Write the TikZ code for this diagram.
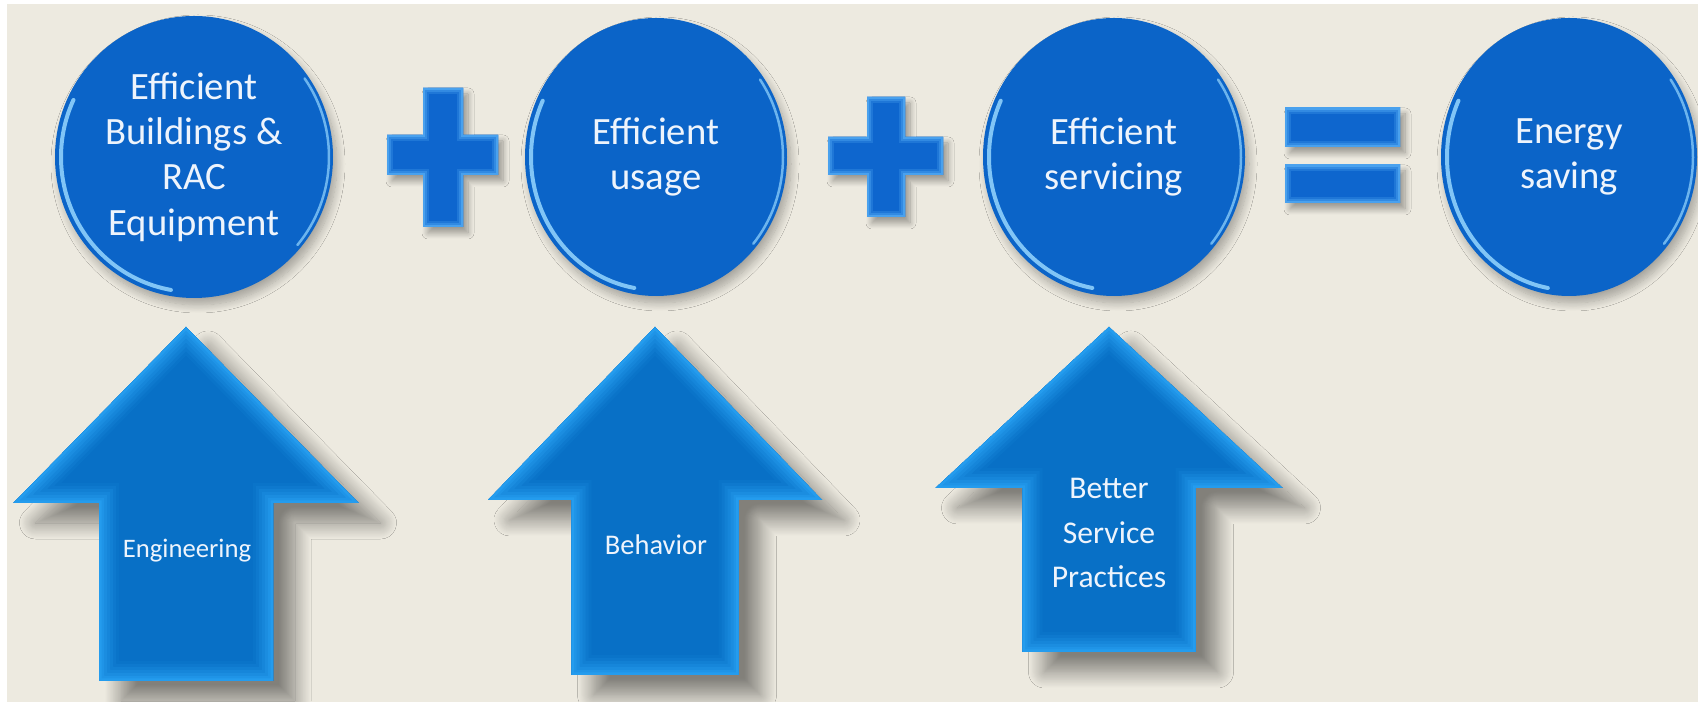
\documentclass[tikz,border=0pt]{standalone}
\usepackage{fontspec}
\setmainfont{Carlito}
\usetikzlibrary{shapes.geometric,shadows.blur}
\definecolor{bg}{RGB}{237,234,224}
\definecolor{bub}{RGB}{11,100,200}
\definecolor{rimc}{RGB}{150,215,255}
\definecolor{ardark}{RGB}{8,112,198}
\definecolor{arlight}{RGB}{36,156,238}
\definecolor{opdark}{RGB}{14,102,206}
\definecolor{oplight}{RGB}{80,168,242}
\definecolor{txt}{RGB}{238,244,252}

\newcommand\arrpath[6]{(#1,#2) -- ({#1+#4},#3) -- ({#1+#5},#3) -- ({#1+#5},#6) -- ({#1-#5},#6) -- ({#1-#5},#3) -- ({#1-#4},#3) -- cycle}

\newcommand\upArrow[6]{%
  \path[blur shadow={shadow xshift=2.2mm,shadow yshift=-2mm,shadow blur radius=1.6mm,shadow blur steps=18,shadow opacity=45}] \arrpath{#1}{#2}{#3}{#4}{#5}{#6};
  \begin{scope}
    \clip \arrpath{#1}{#2}{#3}{#4}{#5}{#6};
    \fill[ardark] \arrpath{#1}{#2}{#3}{#4}{#5}{#6};
    \foreach \w/\p in {4.0/8,3.4/20,2.8/35,2.2/50,1.6/66,1.0/82,0.5/100}
      \draw[line width=\w mm, arlight!\p!ardark, line join=miter] \arrpath{#1}{#2}{#3}{#4}{#5}{#6};
  \end{scope}}

\newcommand\rim[8]{%
  \draw[rimc, line width=#7, opacity=#8, line cap=round]
    ({#1+#3*cos(#5)},{#2+#4*sin(#5)}) arc[start angle=#5, end angle=#6, x radius=#3, y radius=#4];}

\tikzset{
  bubble/.style={ellipse, fill=bub, text=txt, align=center, inner sep=0pt,
    font=\fontsize{11}{12.9}\selectfont,
    blur shadow={shadow xshift=0.4mm, shadow yshift=-0.7mm, shadow blur radius=0.8mm, shadow blur steps=12, shadow opacity=30}},
  atext/.style={text=txt, inner sep=0pt, align=center},
  opshadow/.style={blur shadow={shadow xshift=0.5mm, shadow yshift=-0.6mm, shadow blur radius=0.6mm, shadow blur steps=10, shadow opacity=35}}
}

\begin{document}
\begin{tikzpicture}[x=0.1mm, y=-0.1mm]
\useasboundingbox (0,0) rectangle (1698,702);
\fill[white] (0,0) rectangle (1698,702);
\fill[bg] (7,4) rectangle (1698,702);

% circles
\node[bubble, minimum width=27.8mm, minimum height=28.2mm] (c1) at (194,157) {Efficient\\Buildings \&\\RAC\\Equipment};
\node[bubble, minimum width=26.2mm, minimum height=27.8mm] (c2) at (656,157) {Efficient\\usage};
\node[bubble, minimum width=26.2mm, minimum height=27.8mm] (c3) at (1114,157) {Efficient\\servicing};
\node[bubble, minimum width=25.6mm, minimum height=27.8mm] (c4) at (1569,157) {Energy\\saving};

% rim highlights
\rim{194}{157}{133}{135}{100}{205}{0.4mm}{0.85}
\rim{194}{157}{135}{137}{-35}{40}{0.25mm}{0.7}
\rim{656}{157}{125}{133}{100}{205}{0.4mm}{0.85}
\rim{656}{157}{127}{135}{-35}{40}{0.25mm}{0.7}
\rim{1114}{157}{125}{133}{100}{205}{0.4mm}{0.85}
\rim{1114}{157}{127}{135}{-35}{40}{0.25mm}{0.7}
\rim{1569}{157}{122}{133}{100}{205}{0.4mm}{0.85}
\rim{1569}{157}{124}{135}{-35}{40}{0.25mm}{0.7}

% plus 1
\path[opshadow] (423,88) -- (463,88) -- (463,135) -- (498,135) -- (498,175) -- (463,175) -- (463,227) -- (423,227) -- (423,175) -- (387,175) -- (387,135) -- (423,135) -- cycle;
\begin{scope}
  \clip (423,88) -- (463,88) -- (463,135) -- (498,135) -- (498,175) -- (463,175) -- (463,227) -- (423,227) -- (423,175) -- (387,175) -- (387,135) -- (423,135) -- cycle;
  \fill[opdark] (380,80) rectangle (505,235);
  \foreach \w/\p in {1.2/25,0.8/55,0.4/90}
    \draw[line width=\w mm, oplight!\p!opdark, line join=miter] (423,88) -- (463,88) -- (463,135) -- (498,135) -- (498,175) -- (463,175) -- (463,227) -- (423,227) -- (423,175) -- (387,175) -- (387,135) -- (423,135) -- cycle;
\end{scope}

% plus 2
\path[opshadow] (867,97) -- (905,97) -- (905,137) -- (943,137) -- (943,175) -- (905,175) -- (905,217) -- (867,217) -- (867,175) -- (828,175) -- (828,137) -- (867,137) -- cycle;
\begin{scope}
  \clip (867,97) -- (905,97) -- (905,137) -- (943,137) -- (943,175) -- (905,175) -- (905,217) -- (867,217) -- (867,175) -- (828,175) -- (828,137) -- (867,137) -- cycle;
  \fill[opdark] (820,90) rectangle (950,225);
  \foreach \w/\p in {1.2/25,0.8/55,0.4/90}
    \draw[line width=\w mm, oplight!\p!opdark, line join=miter] (867,97) -- (905,97) -- (905,137) -- (943,137) -- (943,175) -- (905,175) -- (905,217) -- (867,217) -- (867,175) -- (828,175) -- (828,137) -- (867,137) -- cycle;
\end{scope}

% equals
\foreach \ya/\yb in {108/147,165/203}{
  \path[opshadow] (1285,\ya) rectangle (1400,\yb);
  \begin{scope}
    \clip (1285,\ya) rectangle (1400,\yb);
    \fill[opdark] (1285,\ya) rectangle (1400,\yb);
    \foreach \w/\p in {1.2/25,0.8/55,0.4/90}
      \draw[line width=\w mm, oplight!\p!opdark] (1285,\ya) rectangle (1400,\yb);
  \end{scope}
}

% arrows
\upArrow{186}{327}{503}{172.5}{87}{681}
\upArrow{655}{327}{500}{167}{83.5}{675}
\upArrow{1109}{327}{488}{173.5}{86.5}{652}

\node[atext, font=\fontsize{7.6}{9}\selectfont, anchor=base] (eng) at (187,558) {Engineering};
\node[atext, font=\fontsize{8.1}{9}\selectfont, anchor=base] (beh) at (656,555) {Behavior};
\node[atext, font=\fontsize{9}{12.7}\selectfont] (bsp) at (1109,533) {Better\\Service\\Practices};
\end{tikzpicture}
\end{document}
